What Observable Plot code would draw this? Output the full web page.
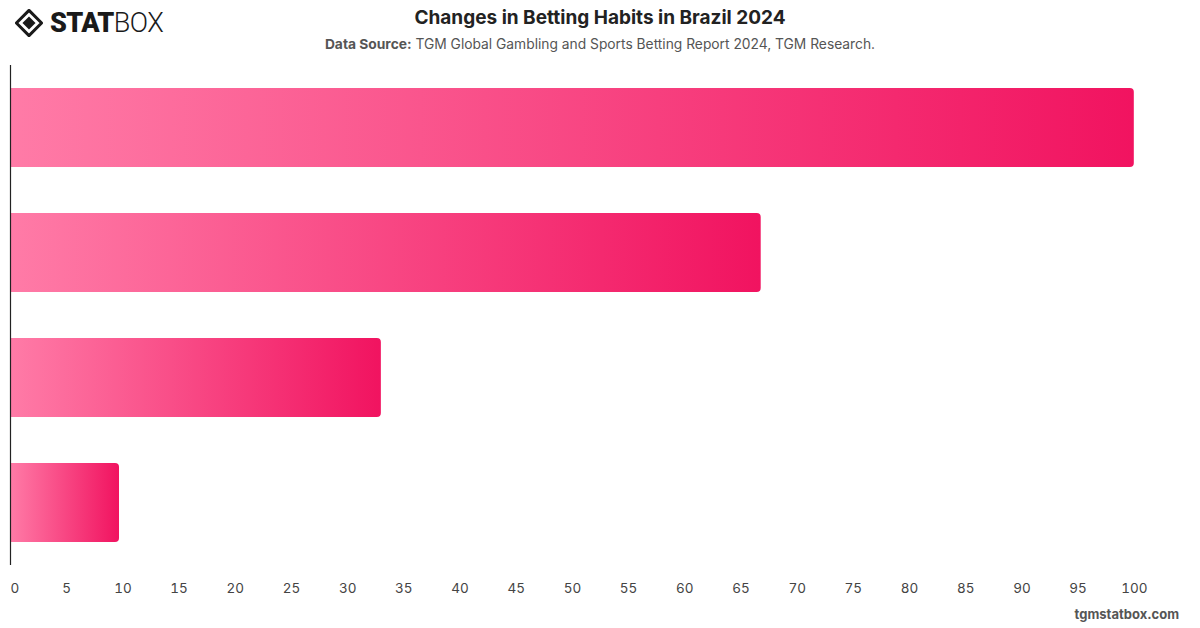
<!DOCTYPE html>
<html>
<head>
<meta charset="utf-8">
<script src="https://cdn.jsdelivr.net/npm/d3@7"></script>
<script src="https://cdn.jsdelivr.net/npm/@observablehq/plot@0.6"></script>
<style>
  html, body { margin: 0; padding: 0; background: #fff; }
  body { width: 1200px; height: 628px; position: relative; overflow: hidden; font-family: Inter, "Noto Sans", sans-serif; }
  #header { position: relative; height: 60px; }
  #logo { position: absolute; left: 15px; top: 9px; display: flex; align-items: center; }
  #logo .word { font-family: Roboto, "Noto Sans", sans-serif; font-size: 27px; letter-spacing: -0.6px; color: #1a1a1a; line-height: 1; }
  #logo .stat { font-weight: 900; }
  #logo .box { font-weight: 300; }
  #title { position: absolute; left: 0; right: 0; top: 6px; text-align: center; font-size: 19px; font-weight: 700; color: #222; }
  #subtitle { position: absolute; left: 0; right: 0; top: 36px; text-align: center; font-size: 13.8px; color: #555; }
  #subtitle b { color: #555; }
  #footer { position: absolute; right: 21px; bottom: 6px; font-size: 13px; font-weight: 700; color: #555; }
</style>
</head>
<body>
<div id="header">
  <div id="logo">
    <svg width="28" height="28" viewBox="0 0 30 30" style="margin-right:7px">
      <path d="M15 1.5 L28.5 15 L15 28.5 L1.5 15 Z" fill="none" stroke="#1a1a1a" stroke-width="3.2" stroke-linejoin="round"/>
      <path d="M15 8 L22 15 L15 22 L8 15 Z" fill="#1a1a1a"/>
    </svg>
    <span class="word stat">STAT</span><span class="word box">BOX</span>
  </div>
  <div id="title">Changes in Betting Habits in Brazil 2024</div>
  <div id="subtitle"><b>Data Source:</b> TGM Global Gambling and Sports Betting Report 2024, TGM Research.</div>
</div>
<div id="chart"></div>
<div id="footer">tgmstatbox.com</div>
<script>
// Bar categories (no axis labels are shown) and their values
const categories = ["Group 1", "Group 2", "Group 3", "Group 4"];
const values = [100, 66.8, 33, 9.7];
const xTicks = [0, 5, 10, 15, 20, 25, 30, 35, 40, 45, 50, 55, 60, 65, 70, 75, 80, 85, 90, 95, 100];

const data = categories.map((c, i) => ({category: c, value: values[i]}));

const axisStyle = {tickSize: 0, tickPadding: 18, tickFormat: d => String(d), fill: "#444", fontSize: 13.5, label: null};

const chart = Plot.plot({
  width: 1200,
  height: 540,
  marginTop: 5,
  marginBottom: 35,
  marginLeft: 10,
  marginRight: 10,
  style: {fontFamily: "Inter, 'Noto Sans', sans-serif", fontSize: "13px", color: "#444", background: "#fff"},
  x: {domain: [0, 105], axis: null},
  y: {domain: categories, axis: null, paddingInner: 0.368, paddingOuter: 0.184},
  marks: [
    Plot.barX(data, {x1: 0, x2: "value", y: "category", fill: "url(#barGradient)", rx2: 4}),
    Plot.ruleY([0], {stroke: "#222", strokeWidth: 1.2}),
    Plot.ruleX([0], {stroke: "#222", strokeWidth: 1.2}),
    // the first label sits just inside the left edge; the rest are centred on their ticks
    Plot.axisX(xTicks.slice(0, 1), {...axisStyle, textAnchor: "start"}),
    Plot.axisX(xTicks.slice(1), axisStyle)
  ]
});

// Horizontal pink gradient applied to each bar from its start to its end
const ns = "http://www.w3.org/2000/svg";
const defs = document.createElementNS(ns, "defs");
const grad = document.createElementNS(ns, "linearGradient");
grad.setAttribute("id", "barGradient");
grad.setAttribute("x1", "0"); grad.setAttribute("y1", "0");
grad.setAttribute("x2", "1"); grad.setAttribute("y2", "0");
[["0%", "#ff7ba7"], ["100%", "#f11360"]].forEach(([o, c]) => {
  const s = document.createElementNS(ns, "stop");
  s.setAttribute("offset", o);
  s.setAttribute("stop-color", c);
  grad.appendChild(s);
});
defs.appendChild(grad);
chart.insertBefore(defs, chart.firstChild);

document.getElementById("chart").appendChild(chart);
</script>
</body>
</html>
